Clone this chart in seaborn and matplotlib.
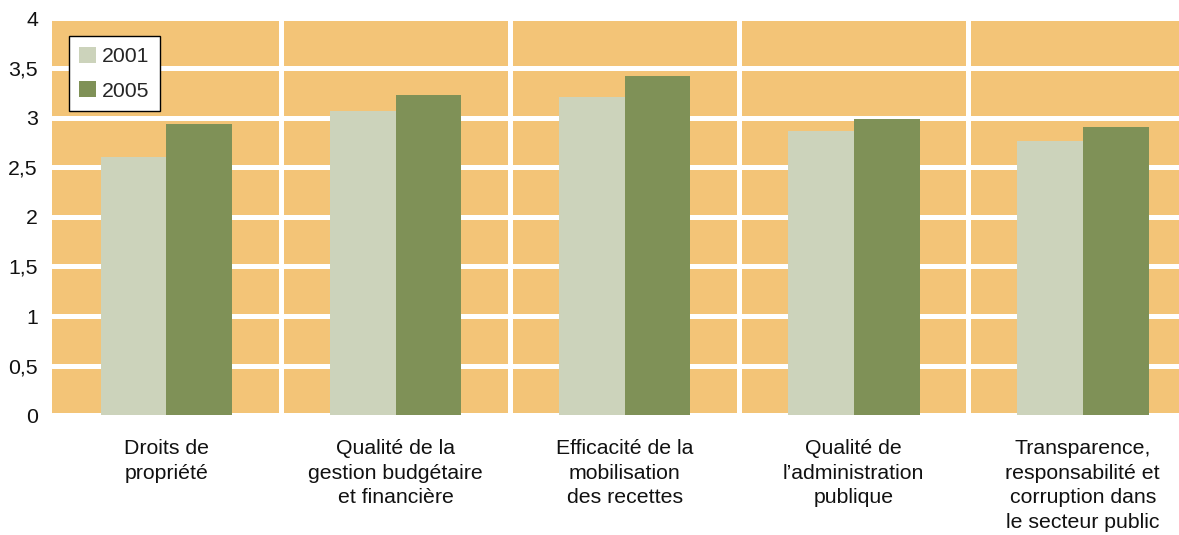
import matplotlib
matplotlib.use("Agg")
import matplotlib.pyplot as plt
import pandas as pd
import seaborn as sns
from matplotlib.ticker import FuncFormatter, MultipleLocator

CATEGORIES = [
    "Droits de\npropriété",
    "Qualité de la\ngestion budgétaire\net financière",
    "Efficacité de la\nmobilisation\ndes recettes",
    "Qualité de\nl’administration\npublique",
    "Transparence,\nresponsabilité et\ncorruption dans\nle secteur public",
]
YEARS = ["2001", "2005"]
VALUES_2001 = [2.60, 3.07, 3.21, 2.86, 2.76]
VALUES_2005 = [2.93, 3.23, 3.42, 2.99, 2.90]

BG_COLOR = "#F3C477"
COLORS = {"2001": "#CCD3BB", "2005": "#7F9157"}
TEXT_COLOR = "#111111"
FONT_SIZE = 15.3

df = pd.DataFrame(
    {
        "category": CATEGORIES * 2,
        "year": [YEARS[0]] * len(CATEGORIES) + [YEARS[1]] * len(CATEGORIES),
        "value": VALUES_2001 + VALUES_2005,
    }
)

sns.set_theme(style="white")
plt.rcParams["font.family"] = ["Liberation Sans", "DejaVu Sans"]

fig = plt.figure(figsize=(11.79, 5.35), dpi=100)
ax = fig.add_axes([0.044, 0.2234, 0.956, 0.7426])
ax.set_facecolor(BG_COLOR)

sns.barplot(
    data=df,
    x="category",
    y="value",
    hue="year",
    order=CATEGORIES,
    hue_order=YEARS,
    palette=COLORS,
    width=0.575,
    linewidth=0,
    saturation=1,
    ax=ax,
    zorder=3,
)

ax.set_ylim(0, 4)
ax.set_xlim(-0.5, 4.42)
ax.yaxis.set_major_locator(MultipleLocator(0.5))
ax.yaxis.set_major_formatter(FuncFormatter(lambda v, _p: f"{v:g}".replace(".", ",")))
ax.set_xticks([0.5, 1.5, 2.5, 3.5], minor=True)
ax.grid(axis="y", which="major", color="white", linewidth=3.6, zorder=1)
ax.grid(axis="x", which="minor", color="white", linewidth=3.6, zorder=1)
ax.grid(axis="x", which="major", visible=False)
ax.set_axisbelow(True)

ax.set_xlabel("")
ax.set_ylabel("")
for spine in ax.spines.values():
    spine.set_visible(False)
ax.tick_params(axis="both", which="both", length=0, labelsize=FONT_SIZE, colors=TEXT_COLOR)
ax.tick_params(axis="x", pad=17)
ax.tick_params(axis="y", pad=10)
for lbl in ax.get_xticklabels():
    lbl.set_multialignment("center")
    lbl.set_linespacing(1.38)

leg = ax.legend(
    title=None,
    loc="upper left",
    bbox_to_anchor=(0.015, 0.955),
    borderaxespad=0,
    frameon=True,
    fancybox=False,
    edgecolor="black",
    framealpha=1,
    fontsize=FONT_SIZE,
    handlelength=0.78,
    handleheight=0.78,
    handletextpad=0.3,
    labelspacing=0.72,
    borderpad=0.5,
)
leg.get_frame().set_linewidth(1.0)

fig.savefig("out.png", dpi=100)
